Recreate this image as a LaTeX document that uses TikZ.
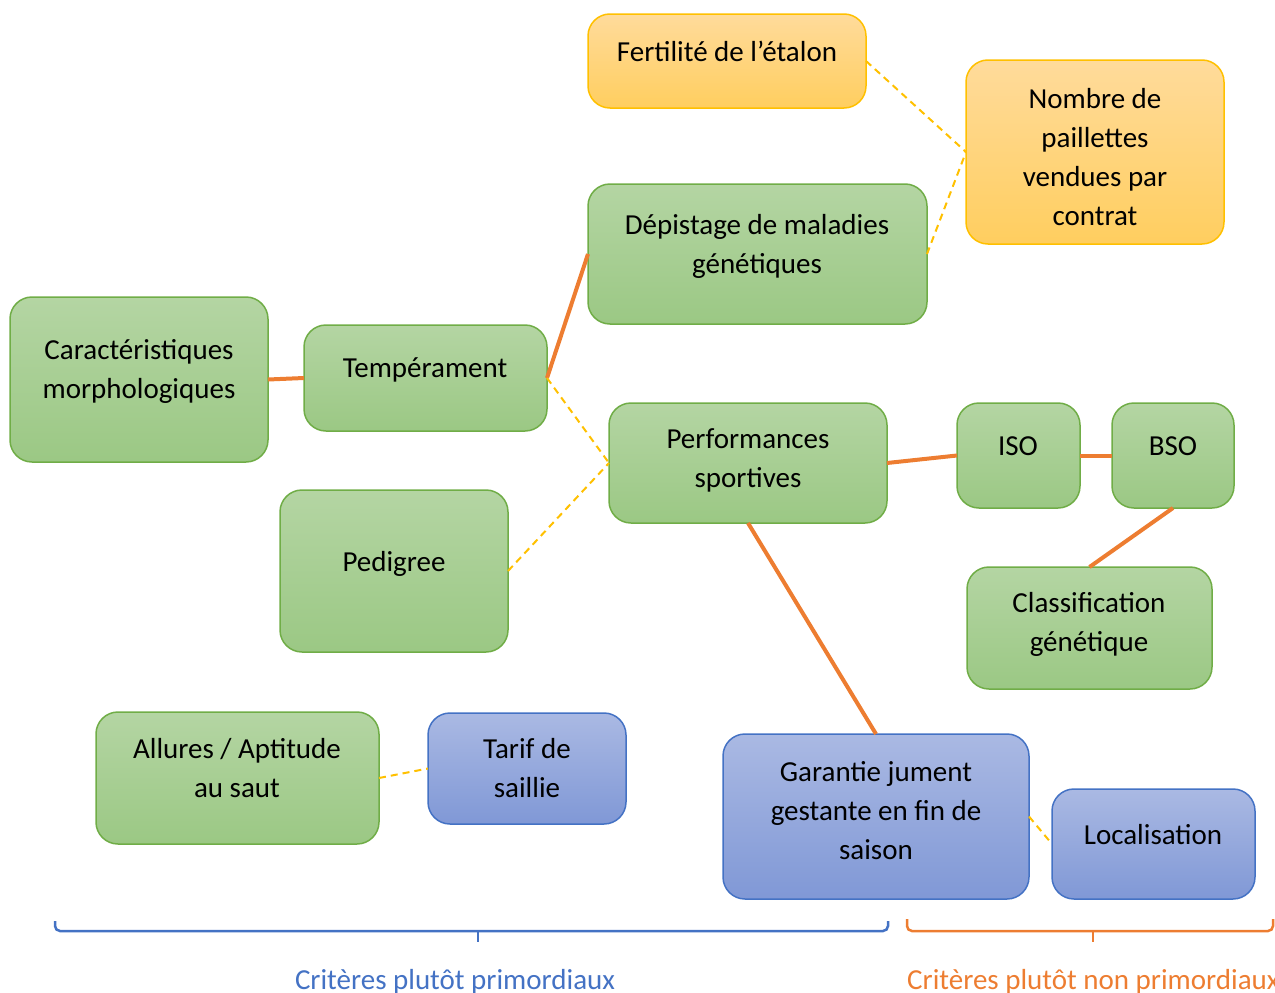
\documentclass[tikz,border=0pt]{standalone}
\usepackage{fontspec}
\setmainfont{Carlito}
\definecolor{gtop}{HTML}{B4D5A3}
\definecolor{gbot}{HTML}{9BC884}
\definecolor{gline}{HTML}{70AD47}
\definecolor{btop}{HTML}{AAB9E3}
\definecolor{bbot}{HTML}{8098D6}
\definecolor{bline}{HTML}{4472C4}
\definecolor{ytop}{HTML}{FFDB9B}
\definecolor{ybot}{HTML}{FFCE5F}
\definecolor{yline}{HTML}{FFC000}
\definecolor{oline}{HTML}{ED7D31}
\tikzset{
  boxbase/.style={rounded corners=22, line width=1.5, inner sep=0, outer sep=0},
  gbox/.style={boxbase, draw=gline, top color=gtop, bottom color=gbot},
  bbox/.style={boxbase, draw=bline, top color=btop, bottom color=bbot},
  ybox/.style={boxbase, draw=yline, top color=ytop, bottom color=ybot},
  lbl/.style={font=\fontsize{29}{39}\selectfont, align=center, anchor=base, inner sep=0},
  solidlink/.style={draw=oline, line width=4},
  dashlink/.style={draw=yline, line width=2, dash pattern=on 7pt off 5pt},
  bracestyle/.style={line width=2.5, rounded corners=5}
}
\begin{document}
\begin{tikzpicture}[x=1pt,y=-1pt]
\useasboundingbox (0,0) rectangle (1275,993);
% boxes
\node[ybox, minimum width=278, minimum height=94] (fert) at (727,61) {};
\node[ybox, minimum width=258, minimum height=184] (nombre) at (1095,152) {};
\node[gbox, minimum width=339, minimum height=140] (depist) at (757.5,254) {};
\node[gbox, minimum width=258, minimum height=165] (caract) at (139,379.5) {};
\node[gbox, minimum width=243, minimum height=106] (temp) at (425.5,378) {};
\node[gbox, minimum width=278, minimum height=120] (perf) at (748,463) {};
\node[gbox, minimum width=123, minimum height=105] (iso) at (1018.5,455.5) {};
\node[gbox, minimum width=122, minimum height=105] (bso) at (1173,455.5) {};
\node[gbox, minimum width=228, minimum height=162] (pedig) at (394,571) {};
\node[gbox, minimum width=245, minimum height=122] (classif) at (1089.5,628) {};
\node[gbox, minimum width=283, minimum height=132] (allures) at (237.5,778) {};
\node[bbox, minimum width=198, minimum height=111] (tarif) at (527,768.5) {};
\node[bbox, minimum width=306, minimum height=165] (garantie) at (876,816.5) {};
\node[bbox, minimum width=203, minimum height=110] (local) at (1153.5,844) {};
% labels (anchor=base is the baseline of the last line)
\node[lbl] (tfert) at (727,61) {Fertilité de l’étalon};
\node[lbl] (tnombre) at (1095,225) {Nombre de\\paillettes\\vendues par\\contrat};
\node[lbl] (tdepist) at (757,273) {Dépistage de maladies\\génétiques};
\node[lbl] (tcaract) at (139,398) {Caractéristiques\\morphologiques};
\node[lbl] (ttemp) at (425,377) {Tempérament};
\node[lbl] (tperf) at (748,487) {Performances\\sportives};
\node[lbl] (tiso) at (1018,455) {ISO};
\node[lbl] (tbso) at (1173,455) {BSO};
\node[lbl] (tpedig) at (394,571) {Pedigree};
\node[lbl] (tclassif) at (1089,651) {Classification\\génétique};
\node[lbl] (tallures) at (237,797) {Allures / Aptitude\\au saut};
\node[lbl] (ttarif) at (527,797) {Tarif de\\saillie};
\node[lbl] (tgarantie) at (876,859) {Garantie jument\\gestante en fin de\\saison};
\node[lbl] (tlocal) at (1153,844) {Localisation};
% connectors
\draw[solidlink] (caract.east) -- (temp.west);
\draw[solidlink] (temp.east) -- (depist.west);
\draw[dashlink] (temp.east) -- (perf.west);
\draw[dashlink] (pedig.east) -- (perf.west);
\draw[dashlink] (fert.east) -- (nombre.west);
\draw[dashlink] (depist.east) -- (nombre.west);
\draw[solidlink] (perf.east) -- (iso.west);
\draw[solidlink] (iso.east) -- (bso.west);
\draw[solidlink] (bso.south) -- (classif.north);
\draw[solidlink] (perf.south) -- (garantie.north);
\draw[dashlink] (allures.east) -- (tarif.west);
\draw[dashlink] (garantie.east) -- (local.west);
% braces
\draw[bracestyle, draw=bline] (55,921) -- (55,931) -- (888,931) -- (888,921);
\draw[line width=2.5, draw=bline] (478,931) -- (478,942);
\draw[bracestyle, draw=oline] (907,919) -- (907,931) -- (1273,931) -- (1273,919);
\draw[line width=2.5, draw=oline] (1093,931) -- (1093,942);
\node[font=\fontsize{29}{39}\selectfont, text=bline, anchor=base, inner sep=0] (prim) at (455,989) {Critères plutôt primordiaux};
\node[font=\fontsize{29}{39}\selectfont, text=oline, anchor=base west, inner sep=0] (nonprim) at (907,989) {Critères plutôt non primordiaux};
\end{tikzpicture}
\end{document}
